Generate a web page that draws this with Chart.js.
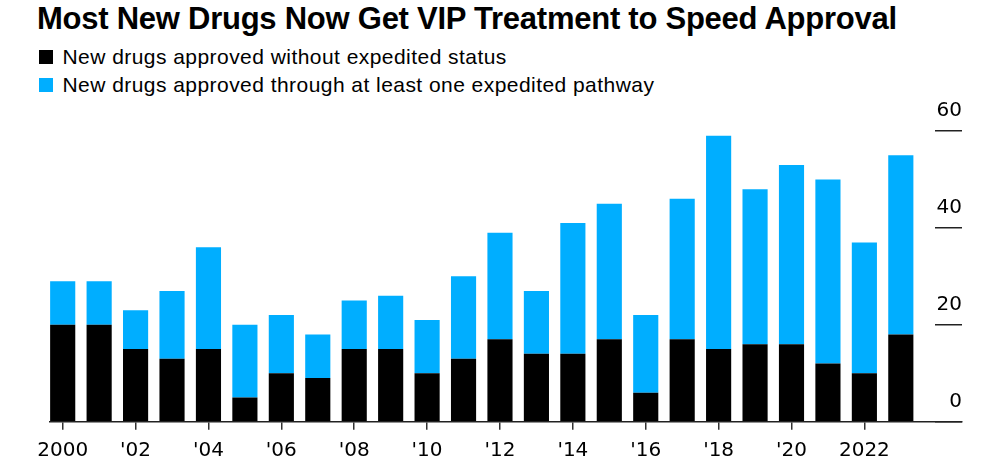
<!DOCTYPE html>
<html>
<head>
<meta charset="utf-8">
<script src="https://cdn.jsdelivr.net/npm/chart.js@4/dist/chart.umd.min.js"></script>
<style>
  html, body { margin: 0; padding: 0; background: #fff; }
  #wrap { position: relative; width: 1007px; height: 476px; overflow: hidden; }
  #title {
    position: absolute; left: 37px; top: 3px; margin: 0;
    font: bold 31px/31px "Liberation Sans", Arial, sans-serif;
    letter-spacing: -0.25px; color: #000; white-space: nowrap;
  }
  #legend { position: absolute; left: 39px; top: 43px; }
  .row {
    font: 21px/27.5px "Liberation Sans", Arial, sans-serif;
    letter-spacing: 0.45px; color: #000; white-space: nowrap;
  }
  .sw { display: inline-block; width: 14px; height: 14px; margin-right: 9.5px; }
  #box { position: absolute; left: 0; top: 100px; width: 1007px; height: 376px; }
</style>
</head>
<body>
<div id="wrap">
  <h1 id="title">Most New Drugs Now Get VIP Treatment to Speed Approval</h1>
  <div id="legend"></div>
  <div id="box"><canvas id="c"></canvas></div>
</div>
<script>
/* ====== 数据 ====== */
const years = [2000, 2001, 2002, 2003, 2004, 2005, 2006, 2007, 2008, 2009, 2010, 2011,
  2012, 2013, 2014, 2015, 2016, 2017, 2018, 2019, 2020, 2021, 2022, 2023];
const withoutExpedited = [20, 20, 15, 13, 15, 5, 10, 9, 15, 15, 10, 13,
  17, 14, 14, 17, 6, 17, 15, 16, 16, 12, 10, 18];
const expedited = [9, 9, 8, 14, 21, 15, 12, 9, 10, 11, 11, 17,
  22, 13, 27, 28, 16, 29, 44, 32, 37, 38, 27, 37];
const seriesLabels = [
  "New drugs approved without expedited status",
  "New drugs approved through at least one expedited pathway",
];
const seriesColors = ["#000000", "#00aeff"];
const tickYears = [2000, 2002, 2004, 2006, 2008, 2010, 2012, 2014, 2016, 2018, 2020, 2022];
const tickLabels = ["2000", "'02", "'04", "'06", "'08", "'10", "'12", "'14", "'16", "'18", "'20", "2022"];
const yTicks = [0, 20, 40, 60];

/* ====== 图例 ====== */
const legend = document.getElementById("legend");
seriesLabels.forEach((t, i) => {
  const row = document.createElement("div");
  row.className = "row";
  row.innerHTML = `<span class="sw" style="background:${seriesColors[i]}"></span>`;
  row.appendChild(document.createTextNode(t));
  legend.appendChild(row);
});

/* ====== 图表 ====== */
const xMin = 1999.6515, xMax = 2024.679;
const axisFont = { family: "'DejaVu Sans', sans-serif", size: 20 };

const toPoints = (arr) => years.map((y, i) => ({ x: y, y: arr[i] }));

new Chart(document.getElementById("c").getContext("2d"), {
  type: "bar",
  data: {
    datasets: [
      { label: seriesLabels[0], data: toPoints(withoutExpedited), backgroundColor: seriesColors[0] },
      { label: seriesLabels[1], data: toPoints(expedited), backgroundColor: seriesColors[1] },
    ],
  },
  options: {
    responsive: true,
    maintainAspectRatio: false,
    animation: false,
    events: [],
    categoryPercentage: 1,
    barPercentage: 0.69,
    layout: { padding: { left: 50, right: 45, top: 31, bottom: 4.7 } },
    plugins: { legend: { display: false }, tooltip: { enabled: false } },
    scales: {
      x: {
        type: "linear",
        stacked: true,
        bounds: "data",
        offset: false,
        min: xMin,
        max: xMax,
        afterBuildTicks: (axis) => { axis.ticks = tickYears.map((v) => ({ value: v })); },
        ticks: {
          autoSkip: false,
          maxRotation: 0,
          padding: 8.8,
          color: "#000",
          font: axisFont,
          callback: (v, i) => tickLabels[i],
        },
        grid: { offset: false, drawOnChartArea: false, tickLength: 8, color: "#333", lineWidth: 1.5 },
        border: { display: true, color: "#222", width: 1.5 },
      },
      y: {
        stacked: true,
        bounds: "data",
        min: 0,
        max: 60,
        position: { x: xMax },
        afterBuildTicks: (axis) => { axis.ticks = yTicks.map((v) => ({ value: v })); },
        ticks: {
          padding: -27,
          labelOffset: -20,
          color: "#000",
          font: axisFont,
        },
        grid: { drawOnChartArea: false, tickLength: 27, color: "#222", lineWidth: 1.5 },
        border: { display: false },
      },
    },
  },
});
</script>
</body>
</html>
